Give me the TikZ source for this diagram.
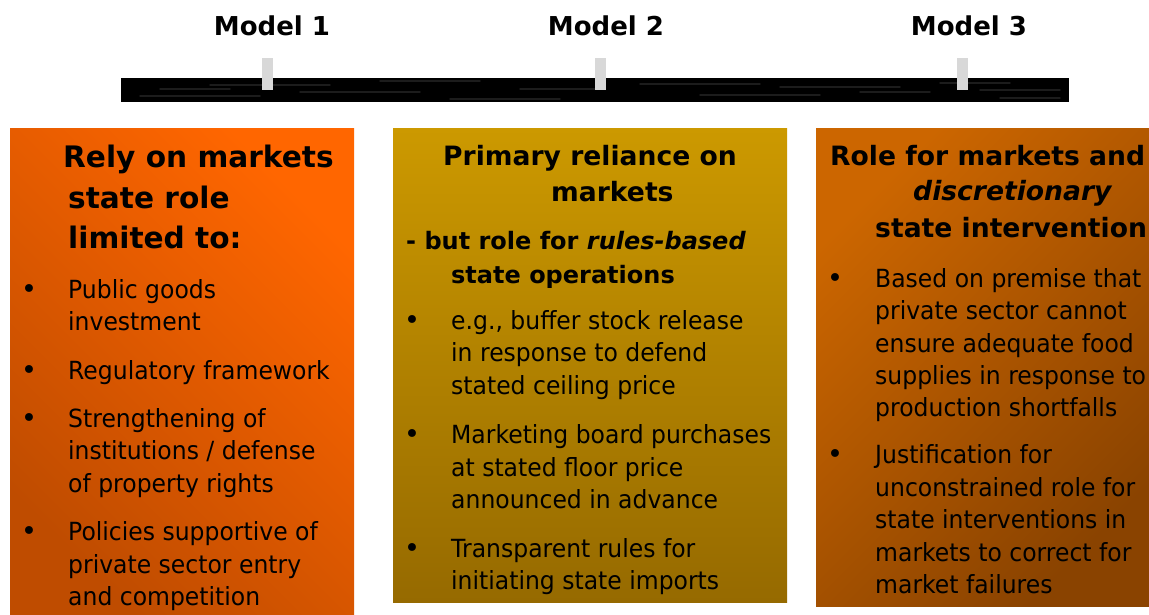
\documentclass[tikz,border=0pt]{standalone}
\usepackage{fontspec}
\setmainfont{DejaVu Sans}
\newfontfamily\bodyfont{DejaVu Sans}[FakeStretch=0.94]
\definecolor{orangeA}{HTML}{FF6600}
\definecolor{orangeB}{HTML}{BF4C00}
\definecolor{goldA}{HTML}{CC9900}
\definecolor{goldB}{HTML}{966A00}
\definecolor{rustA}{HTML}{CC6600}
\definecolor{rustB}{HTML}{8A4300}
\definecolor{tickgray}{HTML}{D8D8D8}
\begin{document}
\begin{tikzpicture}[x=1pt,y=-1pt,
  panel/.style={anchor=north west, inner sep=0, outer sep=0, draw=none},
  modelhead/.style={anchor=base, inner sep=0, font=\bfseries\fontsize{26}{30}\selectfont},
  headline/.style={anchor=base west, inner sep=0, font=\bfseries\fontsize{26.6}{32}\selectfont},
  bighead/.style={headline, font=\bfseries\fontsize{29.6}{34}\selectfont},
  subline/.style={anchor=base west, inner sep=0, font=\bfseries\fontsize{24}{29}\selectfont},
  textline/.style={anchor=base west, inner sep=0, font=\bodyfont\fontsize{25}{30}\selectfont},
  bulletmark/.style={anchor=base, inner sep=0, font=\fontsize{27}{30}\selectfont},
  streak/.style={line width=1.4pt, gray, opacity=0.22, line cap=round}]
\useasboundingbox (0,0) rectangle (1149,614);
\fill[white] (0,0) rectangle (1149,614);

% timeline
\node[modelhead] (lab1) at (272,35) {Model 1};
\node[modelhead] (lab2) at (606,35) {Model 2};
\node[modelhead] (lab3) at (969,35) {Model 3};
\node[panel, fill=black, minimum width=948pt, minimum height=24pt] (bar) at (121,78) {};
\foreach \a/\b/\y in {140/260/96, 210/330/85, 300/420/92, 380/480/81, 520/600/89, 640/760/84,
  700/820/95, 780/900/87, 860/930/92, 940/1010/83, 1000/1060/98, 450/560/99, 160/230/89, 980/1060/90}
  \draw[streak] (\a,\y) -- (\b,\y);
\node[panel, fill=tickgray, minimum width=11pt, minimum height=32pt] (tick1) at (262,58) {};
\node[panel, fill=tickgray, minimum width=11pt, minimum height=32pt] (tick2) at (595,58) {};
\node[panel, fill=tickgray, minimum width=11pt, minimum height=32pt] (tick3) at (957,58) {};

% panels
\node[panel, minimum width=344pt, minimum height=486pt, shading=axis,
  top color=orangeA, bottom color=orangeB, shading angle=-45] (box1) at (10,128) {};
\node[panel, minimum width=394pt, minimum height=474pt, shading=axis,
  top color=goldA, bottom color=goldB] (box2) at (393,128) {};
\node[panel, minimum width=333pt, minimum height=478pt, shading=axis,
  top color=rustA, bottom color=rustB, shading angle=45] (box3) at (816,128) {};

% Model 1
\node[bighead] (h1a) at (63,167) {Rely on markets};
\node[bighead] (h1b) at (68,208) {state role};
\node[bighead] (h1c) at (68,248) {limited to:};
\node[bulletmark] (b1a) at (29,298) {•};
\node[textline] (t1a) at (68,298) {Public goods};
\node[textline] (t1b) at (68,330) {investment};
\node[bulletmark] (b1b) at (29,379) {•};
\node[textline] (t1c) at (68,379) {Regulatory framework};
\node[bulletmark] (b1c) at (29,427) {•};
\node[textline] (t1d) at (68,427) {Strengthening of};
\node[textline] (t1e) at (68,459) {institutions / defense};
\node[textline] (t1f) at (68,492) {of property rights};
\node[bulletmark] (b1d) at (29,540) {•};
\node[textline] (t1g) at (68,540) {Policies supportive of};
\node[textline] (t1h) at (68,573) {private sector entry};
\node[textline] (t1i) at (68,605) {and competition};

% Model 2
\node[headline] (h2a) at (443,165) {Primary reliance on};
\node[headline] (h2b) at (551,201) {markets};
\node[subline] (h2c) at (406,249) {- but role for \textit{rules-based}};
\node[subline] (h2d) at (451,283) {state operations};
\node[bulletmark] (b2a) at (412,329) {•};
\node[textline] (t2a) at (451,329) {e.g., buffer stock release};
\node[textline] (t2b) at (451,361) {in response to defend};
\node[textline] (t2c) at (451,394) {stated ceiling price};
\node[bulletmark] (b2b) at (412,443) {•};
\node[textline] (t2d) at (451,443) {Marketing board purchases};
\node[textline] (t2e) at (451,476) {at stated floor price};
\node[textline] (t2f) at (451,508) {announced in advance};
\node[bulletmark] (b2c) at (412,557) {•};
\node[textline] (t2g) at (451,557) {Transparent rules for};
\node[textline] (t2h) at (451,589) {initiating state imports};

% Model 3
\node[headline] (h3a) at (830,165) {Role for markets and};
\node[headline] (h3b) at (913,200) {\textit{discretionary}};
\node[headline] (h3c) at (875,237) {state intervention};
\node[bulletmark] (b3a) at (835,287) {•};
\node[textline] (t3a) at (875,287) {Based on premise that};
\node[textline] (t3b) at (875,319) {private sector cannot};
\node[textline] (t3c) at (875,352) {ensure adequate food};
\node[textline] (t3d) at (875,384) {supplies in response to};
\node[textline] (t3e) at (875,416) {production shortfalls};
\node[bulletmark] (b3b) at (835,463) {•};
\node[textline] (t3f) at (875,463) {Justification for};
\node[textline] (t3g) at (875,496) {unconstrained role for};
\node[textline] (t3h) at (875,528) {state interventions in};
\node[textline] (t3i) at (875,561) {markets to correct for};
\node[textline] (t3j) at (875,593) {market failures};
\end{tikzpicture}
\end{document}
